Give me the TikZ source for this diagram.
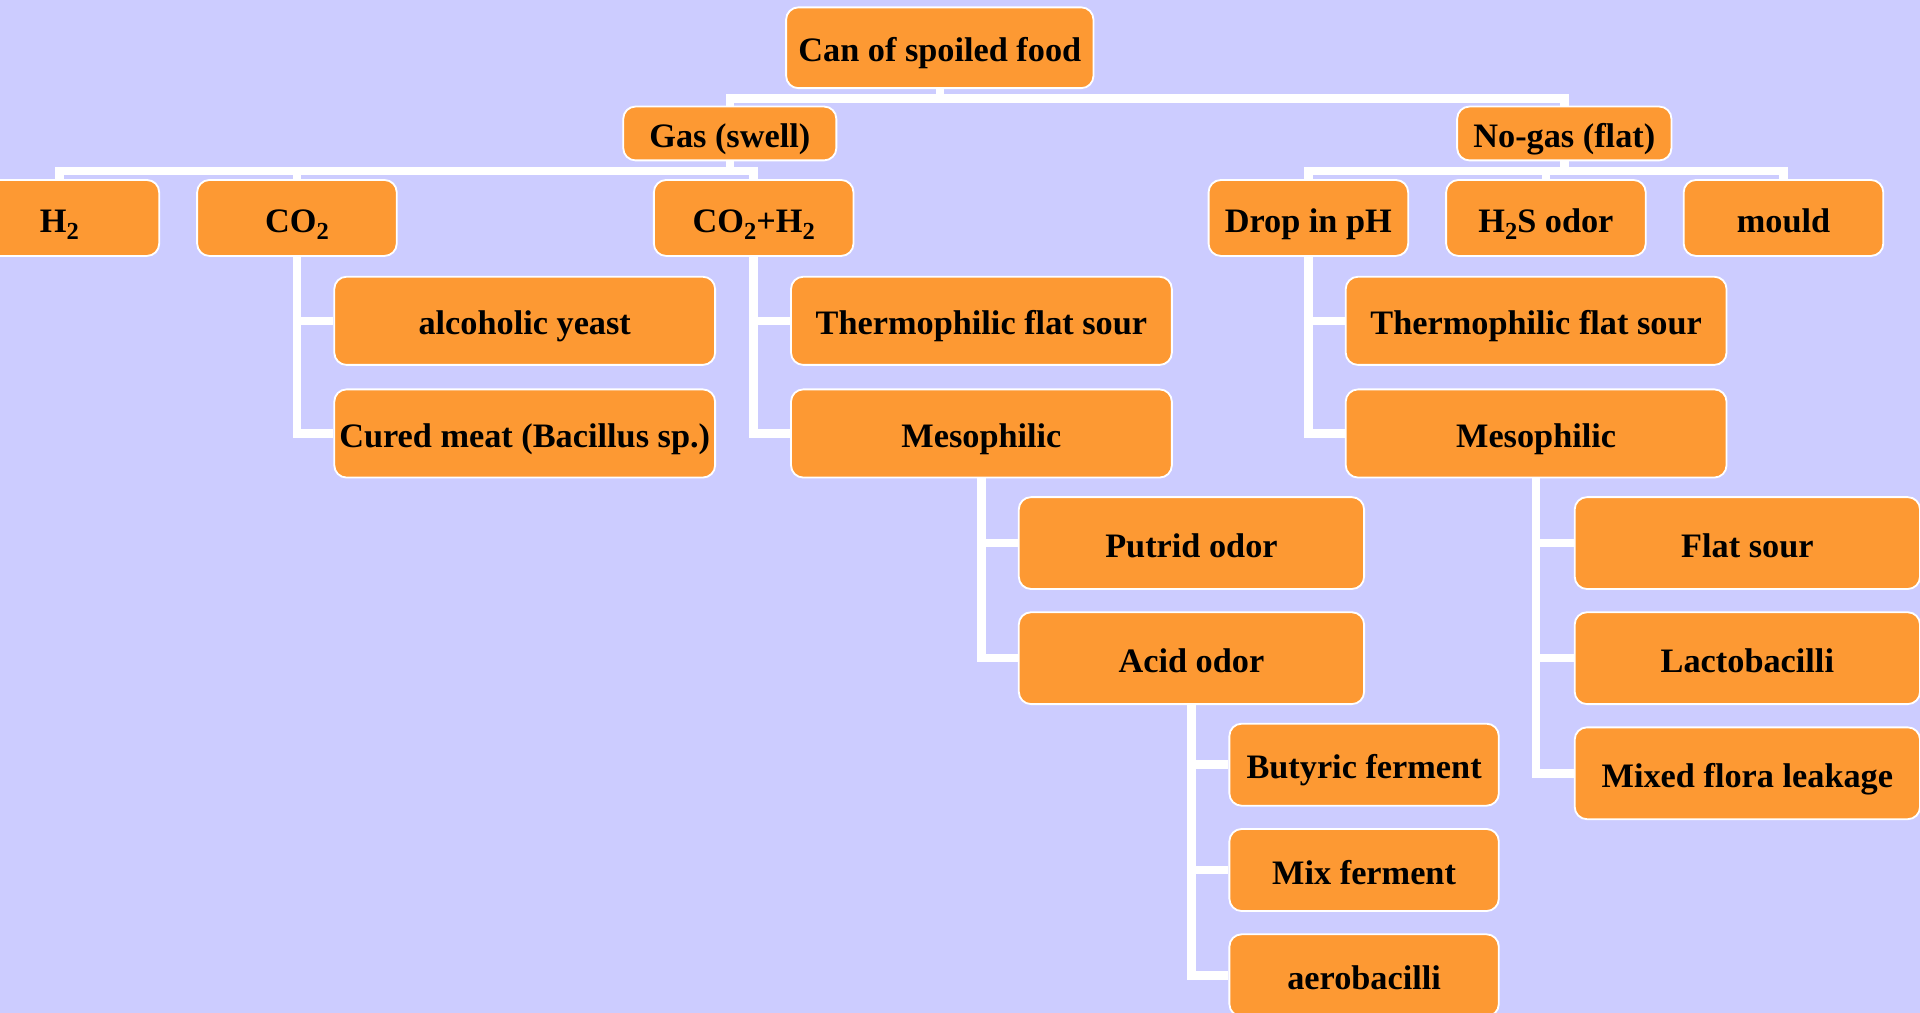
\documentclass[tikz,border=0pt]{standalone}
\usepackage{fontspec}
\setmainfont{Liberation Serif}
\usetikzlibrary{calc}
\pgfdeclarelayer{bglayer}
\pgfdeclarelayer{linelayer}
\pgfsetlayers{bglayer,linelayer,main}
\definecolor{bgc}{RGB}{204,204,255}
\definecolor{boxc}{RGB}{253,153,51}
\newcommand\bx[6]{\node[box, minimum width=#4pt, minimum height=#5pt] (#1) at (#2,#3) {#6};}
\newcommand\mysub[1]{\raisebox{-0.22em}{\fontsize{20}{20}\selectfont #1}}
\begin{document}
\begin{tikzpicture}[x=1pt,y=-1pt,
  box/.style={draw=white, line width=1.5pt, fill=boxc, rounded corners=10pt, inner sep=0pt,
    font=\fontsize{28}{32}\selectfont\bfseries, text=black, text height=23pt, text depth=0pt},
  conn/.style={draw=white, line width=7pt}]
\begin{pgfonlayer}{bglayer}
\fill[bgc] (0,0) rectangle (1568,827);
\end{pgfonlayer}
\useasboundingbox (0,0) rectangle (1568,827);
% level 0/1
\bx{root}{767.5}{39}{251}{66}{Can of spoiled food}
\bx{gas}{596}{109}{174}{44}{Gas (swell)}
\bx{nogas}{1277.5}{109}{175}{44}{No-gas (flat)}
% level 2
\bx{h2}{48.5}{178}{163}{62}{H\mysub{2}}
\bx{co2}{242.5}{178}{163}{62}{CO\mysub{2}}
\bx{co2h2}{615.5}{178}{163}{62}{CO\mysub{2}+H\mysub{2}}
\bx{drop}{1068.5}{178}{163}{62}{Drop in pH}
\bx{h2s}{1262.5}{178}{163}{62}{H\mysub{2}S odor}
\bx{mould}{1456.5}{178}{163}{62}{mould}
% level 3
\bx{alc}{428.5}{262}{311}{72}{alcoholic yeast}
\bx{cured}{428.5}{354}{311}{72}{Cured meat (Bacillus sp.)}
\bx{thermA}{801.5}{262}{311}{72}{Thermophilic flat sour}
\bx{mesoA}{801.5}{354}{311}{72}{Mesophilic}
\bx{thermB}{1254.5}{262}{311}{72}{Thermophilic flat sour}
\bx{mesoB}{1254.5}{354}{311}{72}{Mesophilic}
% level 4
\bx{putrid}{973}{443.5}{282}{75}{Putrid odor}
\bx{acid}{973}{537.5}{282}{75}{Acid odor}
\bx{flat}{1427}{443.5}{282}{75}{Flat sour}
\bx{lacto}{1427}{537.5}{282}{75}{Lactobacilli}
\bx{mixed}{1427}{631.5}{282}{75}{Mixed flora leakage}
% level 5
\bx{buty}{1114}{624.5}{220}{67}{Butyric ferment}
\bx{mix}{1114}{710.5}{220}{67}{Mix ferment}
\bx{aero}{1114}{796.5}{220}{67}{aerobacilli}
\begin{pgfonlayer}{linelayer}
\draw[conn] (root.south) -- ++(0,7.5) coordinate (r1);
\draw[conn] (gas.north) |- (r1) -| (nogas.north);
\draw[conn] (gas.south) -- ++(0,8) coordinate (g1);
\draw[conn] (h2.north) |- (g1) -| (co2h2.north);
\draw[conn] (co2.north) -- (co2.north |- g1);
\draw[conn] (nogas.south) -- ++(0,8) coordinate (n1);
\draw[conn] (drop.north) |- (n1) -| (mould.north);
\draw[conn] (h2s.north) -- (h2s.north |- n1);
\draw[conn] (co2.south) |- (alc.west);
\draw[conn] (co2.south) |- (cured.west);
\draw[conn] (co2h2.south) |- (thermA.west);
\draw[conn] (co2h2.south) |- (mesoA.west);
\draw[conn] (drop.south) |- (thermB.west);
\draw[conn] (drop.south) |- (mesoB.west);
\draw[conn] (mesoA.south) |- (putrid.west);
\draw[conn] (mesoA.south) |- (acid.west);
\draw[conn] (mesoB.south) |- (flat.west);
\draw[conn] (mesoB.south) |- (lacto.west);
\draw[conn] (mesoB.south) |- (mixed.west);
\draw[conn] (acid.south) |- (buty.west);
\draw[conn] (acid.south) |- (mix.west);
\draw[conn] (acid.south) |- (aero.west);
\end{pgfonlayer}
\end{tikzpicture}
\end{document}
